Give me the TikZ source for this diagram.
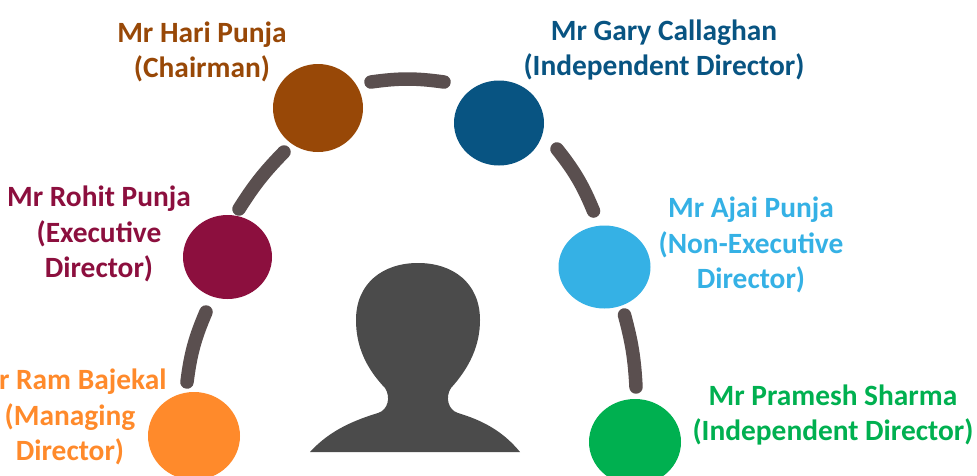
\documentclass[tikz,border=0pt]{standalone}
\usepackage{fontspec}
\setmainfont{Carlito}
\usetikzlibrary{shapes.geometric,calc}
\definecolor{cbrown}{HTML}{984807}
\definecolor{cnavy}{HTML}{085482}
\definecolor{ccrim}{HTML}{8C0F3E}
\definecolor{csky}{HTML}{35B1E5}
\definecolor{corange}{HTML}{FF8A2B}
\definecolor{cgreen}{HTML}{00B050}
\definecolor{clink}{HTML}{5A4F4F}
\definecolor{chead}{HTML}{4B4B4B}
\tikzset{
  person/.style={ellipse,inner sep=0pt,draw=none},
  lbl/.style={align=center,font=\bfseries\fontsize{29.4}{35.3}\selectfont,inner sep=0pt},
  link/.style={draw=clink,line width=13.5pt,line cap=round}
}
\begin{document}
\begin{tikzpicture}[x=1pt,y=-1pt]
\useasboundingbox (0,0) rectangle (977,475);
\clip (0,0) rectangle (977,475);
\fill[white] (0,0) rectangle (977,475);
\node[person,fill=cbrown,minimum width=90pt,minimum height=88pt] (hari) at (318,108) {};
\node[person,fill=cnavy,minimum width=90pt,minimum height=85pt] (gary) at (499,123) {};
\node[person,fill=csky,minimum width=92pt,minimum height=83pt] (ajai) at (604.5,267) {};
\node[person,fill=ccrim,minimum width=89pt,minimum height=84pt] (rohit) at (227.5,257) {};
\node[person,fill=corange,minimum width=92pt,minimum height=88pt] (ram) at (194,436) {};
\node[person,fill=cgreen,minimum width=92pt,minimum height=86pt] (pramesh) at (635,442) {};
\draw[link] ($(hari)+(53,-26)$) to[bend left=8] ($(gary)+(-55,-41)$);
\draw[link] ($(gary)+(58,26)$) to[bend left=8] ($(ajai)+(-11,-56)$);
\draw[link] ($(ajai)+(20,48)$) to[bend left=6] ($(pramesh)+(1,-55)$);
\draw[link] ($(rohit)+(11.5,-48)$) to[bend left=6] ($(hari)+(-34,44)$);
\draw[link] ($(ram)+(-7,-54)$) to[bend left=8] ($(rohit)+(-21.5,55)$);
\fill[chead] (310,452) .. controls (330,430) and (355,420) .. (378,413)
  .. controls (388,410) and (391,397) .. (385,388)
  .. controls (365,367) and (356,345) .. (356,320)
  .. controls (356,283) and (383,263) .. (418,263)
  .. controls (453,263) and (480,283) .. (480,320)
  .. controls (480,345) and (470,367) .. (451,388)
  .. controls (445,397) and (448,410) .. (458,413)
  .. controls (481,420) and (502,430) .. (520,452) -- cycle;
\node[lbl,text=cbrown] (t1) at (202,52) {Mr Hari Punja\\(Chairman)};
\node[lbl,text=cnavy] (t2) at (664,50) {Mr Gary Callaghan\\(Independent Director)};
\node[lbl,text=ccrim] (t3) at (99,234) {Mr Rohit Punja\\(Executive\\Director)};
\node[lbl,text=csky] (t4) at (751,245) {Mr Ajai Punja\\(Non-Executive\\Director)};
\node[lbl,text=corange] (t5) at (70,417) {Mr Ram Bajekal\\(Managing\\Director)};
\node[lbl,text=cgreen] (t6) at (833,415) {Mr Pramesh Sharma\\(Independent Director)};
\end{tikzpicture}
\end{document}
